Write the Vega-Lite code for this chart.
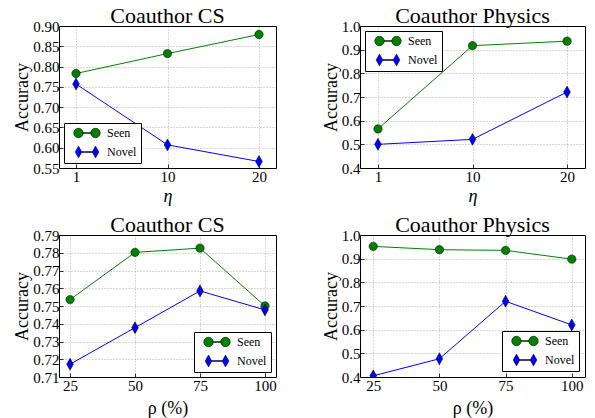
{
  "$schema": "https://vega.github.io/schema/vega-lite/v6.json",
  "background": "white",
  "padding": {"left": 13, "top": 4, "right": 5, "bottom": 5},
  "config": {
    "font": "Liberation Serif, Times New Roman, serif",
    "view": {"stroke": "black", "strokeWidth": 1},
    "style": {"guide-label": {"font": "Liberation Serif, Times New Roman, serif"}, "guide-title": {"font": "Liberation Serif, Times New Roman, serif"}},
    "axis": {
      "labelFont": "Liberation Serif, Times New Roman, serif", "labelFontSize": 15, "labelColor": "black",
      "titleFont": "Liberation Serif, Times New Roman, serif", "titleFontSize": 18, "titleFontWeight": "normal", "titleColor": "black",
      "domain": false, "tickColor": "black", "tickSize": -4, "tickWidth": 0.8,
      "grid": true, "gridColor": "black", "gridDash": [1, 2], "gridOpacity": 0.5, "gridWidth": 0.6
    },
    "axisX": {"labelAngle": 0, "labelPadding": 5},
    "axisY": {"labelPadding": 4, "titlePadding": 1},
    "title": {"font": "Liberation Serif, Times New Roman, serif", "fontSize": 22, "fontWeight": "normal", "color": "black", "offset": -9},
    "legend": {
      "labelFont": "Liberation Serif, Times New Roman, serif", "labelFontSize": 12, "labelColor": "black",
      "symbolSize": 71, "symbolOffset": 13, "labelOffset": 14, "padding": 4, "rowPadding": 6,
      "strokeColor": "black", "fillColor": "white", "cornerRadius": 0,
      "symbolStrokeColor": "black", "symbolStrokeWidth": 0.5
    }
  },
  "datasets": {
    "d": [
      {"p": "a", "s": "Seen", "x": 1, "v": 0.783},
      {"p": "a", "s": "Seen", "x": 10, "v": 0.832},
      {"p": "a", "s": "Seen", "x": 20, "v": 0.879},
      {"p": "a", "s": "Novel", "x": 1, "v": 0.757},
      {"p": "a", "s": "Novel", "x": 10, "v": 0.607},
      {"p": "a", "s": "Novel", "x": 20, "v": 0.566},
      {"p": "b", "s": "Seen", "x": 1, "v": 0.565},
      {"p": "b", "s": "Seen", "x": 10, "v": 0.917},
      {"p": "b", "s": "Seen", "x": 20, "v": 0.936},
      {"p": "b", "s": "Novel", "x": 1, "v": 0.500},
      {"p": "b", "s": "Novel", "x": 10, "v": 0.521},
      {"p": "b", "s": "Novel", "x": 20, "v": 0.721},
      {"p": "c", "s": "Seen", "x": 25, "v": 0.7536},
      {"p": "c", "s": "Seen", "x": 50, "v": 0.7802},
      {"p": "c", "s": "Seen", "x": 75, "v": 0.7826},
      {"p": "c", "s": "Seen", "x": 100, "v": 0.7500},
      {"p": "c", "s": "Novel", "x": 25, "v": 0.7172},
      {"p": "c", "s": "Novel", "x": 50, "v": 0.7378},
      {"p": "c", "s": "Novel", "x": 75, "v": 0.7585},
      {"p": "c", "s": "Novel", "x": 100, "v": 0.7478},
      {"p": "d", "s": "Seen", "x": 25, "v": 0.952},
      {"p": "d", "s": "Seen", "x": 50, "v": 0.938},
      {"p": "d", "s": "Seen", "x": 75, "v": 0.935},
      {"p": "d", "s": "Seen", "x": 100, "v": 0.898},
      {"p": "d", "s": "Novel", "x": 25, "v": 0.405},
      {"p": "d", "s": "Novel", "x": 50, "v": 0.477},
      {"p": "d", "s": "Novel", "x": 75, "v": 0.720},
      {"p": "d", "s": "Novel", "x": 100, "v": 0.620}
    ]
  },
  "columns": 2,
  "spacing": {"row": 67, "column": 84},
  "bounds": "flush",
  "resolve": {"scale": {"color": "independent", "shape": "independent"}, "legend": {"color": "independent", "shape": "independent"}},
  "concat": [
    {
      "width": 217, "height": 142,
      "title": "Coauthor CS",
      "data": {"name": "d"},
      "transform": [{"filter": "datum.p === 'a'"}],
      "resolve": {"scale": {"color": "independent", "shape": "independent"}, "legend": {"color": "independent", "shape": "independent"}},
      "encoding": {
        "x": {"field": "x", "type": "ordinal", "scale": {"type": "point", "padding": 0.186}, "axis": {"title": "η", "titleFontStyle": "italic", "titlePadding": 3, "labelFont": "Liberation Serif, Times New Roman, serif", "titleFont": "Liberation Serif, Times New Roman, serif", "labelFontSize": 15, "titleFontSize": 18}},
        "y": {"field": "v", "type": "quantitative", "scale": {"domain": [0.55, 0.9], "nice": false, "zero": false}, "axis": {"title": "Accuracy", "values": [0.55, 0.6, 0.65, 0.7, 0.75, 0.8, 0.85, 0.9], "format": ".2f", "labelFont": "Liberation Serif, Times New Roman, serif", "titleFont": "Liberation Serif, Times New Roman, serif", "labelFontSize": 15, "titleFontSize": 18}}
      },
      "layer": [
        {"mark": {"type": "line", "strokeWidth": 1},
         "encoding": {"color": {"field": "s", "type": "nominal", "scale": {"domain": ["Seen", "Novel"], "range": ["#008000", "#0000ff"]}, "legend": null}}},
        {"mark": {"type": "point", "filled": true, "size": 71, "stroke": "black", "strokeWidth": 0.5, "opacity": 1, "clip": true},
         "encoding": {
           "color": {"field": "s", "type": "nominal", "scale": {"domain": ["Seen", "Novel"], "range": ["#008000", "#0000ff"]}, "legend": null},
           "shape": {"field": "s", "type": "nominal", "scale": {"domain": ["Seen", "Novel"], "range": ["circle", "M0,-1.42L0.8,0L0,1.42L-0.8,0Z"]}, "legend": null}}},
        {"transform": [{"filter": "false"}],
         "mark": {"type": "point", "filled": true, "size": 71, "stroke": "black", "strokeWidth": 0.5, "opacity": 1},
         "encoding": {
           "color": {"field": "s", "type": "nominal", "scale": {"domain": ["Seen", "Novel"], "range": ["#008000", "#0000ff"]},
             "legend": {"title": null, "orient": "bottom-left", "offset": 5, "labelFont": "Liberation Serif, Times New Roman, serif", "labelFontSize": 12}},
           "shape": {"field": "s", "type": "nominal", "scale": {"domain": ["Seen", "Novel"], "range": ["M-0.89,-0.12L0.89,-0.12L0.89,0.12L-0.89,0.12Z M-0.89,0A1.13,1.13 0 1,0 -3.15,0A1.13,1.13 0 1,0 -0.89,0Z M3.15,0A1.13,1.13 0 1,0 0.89,0A1.13,1.13 0 1,0 3.15,0Z", "M-1.22,-0.12L1.22,-0.12L1.22,0.12L-1.22,0.12Z M-2.02,-1.42L-1.22,0L-2.02,1.42L-2.82,0Z M2.02,-1.42L2.82,0L2.02,1.42L1.22,0Z"]},
             "legend": {"title": null, "orient": "bottom-left", "offset": 5, "labelFont": "Liberation Serif, Times New Roman, serif", "labelFontSize": 12}}}}
      ]
    },
    {
      "width": 225, "height": 142,
      "title": "Coauthor Physics",
      "data": {"name": "d"},
      "transform": [{"filter": "datum.p === 'b'"}],
      "resolve": {"scale": {"color": "independent", "shape": "independent"}, "legend": {"color": "independent", "shape": "independent"}},
      "encoding": {
        "x": {"field": "x", "type": "ordinal", "scale": {"type": "point", "padding": 0.19}, "axis": {"title": "η", "titleFontStyle": "italic", "titlePadding": 3, "labelFont": "Liberation Serif, Times New Roman, serif", "titleFont": "Liberation Serif, Times New Roman, serif", "labelFontSize": 15, "titleFontSize": 18}},
        "y": {"field": "v", "type": "quantitative", "scale": {"domain": [0.4, 1.0], "nice": false, "zero": false}, "axis": {"title": "Accuracy", "values": [0.4, 0.5, 0.6, 0.7, 0.8, 0.9, 1.0], "format": ".1f", "labelFont": "Liberation Serif, Times New Roman, serif", "titleFont": "Liberation Serif, Times New Roman, serif", "labelFontSize": 15, "titleFontSize": 18}}
      },
      "layer": [
        {"mark": {"type": "line", "strokeWidth": 1},
         "encoding": {"color": {"field": "s", "type": "nominal", "scale": {"domain": ["Seen", "Novel"], "range": ["#008000", "#0000ff"]}, "legend": null}}},
        {"mark": {"type": "point", "filled": true, "size": 71, "stroke": "black", "strokeWidth": 0.5, "opacity": 1, "clip": true},
         "encoding": {
           "color": {"field": "s", "type": "nominal", "scale": {"domain": ["Seen", "Novel"], "range": ["#008000", "#0000ff"]}, "legend": null},
           "shape": {"field": "s", "type": "nominal", "scale": {"domain": ["Seen", "Novel"], "range": ["circle", "M0,-1.42L0.8,0L0,1.42L-0.8,0Z"]}, "legend": null}}},
        {"transform": [{"filter": "false"}],
         "mark": {"type": "point", "filled": true, "size": 71, "stroke": "black", "strokeWidth": 0.5, "opacity": 1},
         "encoding": {
           "color": {"field": "s", "type": "nominal", "scale": {"domain": ["Seen", "Novel"], "range": ["#008000", "#0000ff"]},
             "legend": {"title": null, "orient": "top-left", "offset": 5, "labelFont": "Liberation Serif, Times New Roman, serif", "labelFontSize": 12}},
           "shape": {"field": "s", "type": "nominal", "scale": {"domain": ["Seen", "Novel"], "range": ["M-0.89,-0.12L0.89,-0.12L0.89,0.12L-0.89,0.12Z M-0.89,0A1.13,1.13 0 1,0 -3.15,0A1.13,1.13 0 1,0 -0.89,0Z M3.15,0A1.13,1.13 0 1,0 0.89,0A1.13,1.13 0 1,0 3.15,0Z", "M-1.22,-0.12L1.22,-0.12L1.22,0.12L-1.22,0.12Z M-2.02,-1.42L-1.22,0L-2.02,1.42L-2.82,0Z M2.02,-1.42L2.82,0L2.02,1.42L1.22,0Z"]},
             "legend": {"title": null, "orient": "top-left", "offset": 5, "labelFont": "Liberation Serif, Times New Roman, serif", "labelFontSize": 12}}}}
      ]
    },
    {
      "width": 217, "height": 142,
      "title": "Coauthor CS",
      "data": {"name": "d"},
      "transform": [{"filter": "datum.p === 'c'"}],
      "resolve": {"scale": {"color": "independent", "shape": "independent"}, "legend": {"color": "independent", "shape": "independent"}},
      "encoding": {
        "x": {"field": "x", "type": "ordinal", "scale": {"type": "point", "padding": 0.17}, "axis": {"title": "ρ (%)", "titlePadding": 6, "labelFont": "Liberation Serif, Times New Roman, serif", "titleFont": "Liberation Serif, Times New Roman, serif", "labelFontSize": 15, "titleFontSize": 18}},
        "y": {"field": "v", "type": "quantitative", "scale": {"domain": [0.71, 0.79], "nice": false, "zero": false}, "axis": {"title": "Accuracy", "values": [0.71, 0.72, 0.73, 0.74, 0.75, 0.76, 0.77, 0.78, 0.79], "format": ".2f", "labelFont": "Liberation Serif, Times New Roman, serif", "titleFont": "Liberation Serif, Times New Roman, serif", "labelFontSize": 15, "titleFontSize": 18}}
      },
      "layer": [
        {"mark": {"type": "line", "strokeWidth": 1},
         "encoding": {"color": {"field": "s", "type": "nominal", "scale": {"domain": ["Seen", "Novel"], "range": ["#008000", "#0000ff"]}, "legend": null}}},
        {"mark": {"type": "point", "filled": true, "size": 71, "stroke": "black", "strokeWidth": 0.5, "opacity": 1, "clip": true},
         "encoding": {
           "color": {"field": "s", "type": "nominal", "scale": {"domain": ["Seen", "Novel"], "range": ["#008000", "#0000ff"]}, "legend": null},
           "shape": {"field": "s", "type": "nominal", "scale": {"domain": ["Seen", "Novel"], "range": ["circle", "M0,-1.42L0.8,0L0,1.42L-0.8,0Z"]}, "legend": null}}},
        {"transform": [{"filter": "false"}],
         "mark": {"type": "point", "filled": true, "size": 71, "stroke": "black", "strokeWidth": 0.5, "opacity": 1},
         "encoding": {
           "color": {"field": "s", "type": "nominal", "scale": {"domain": ["Seen", "Novel"], "range": ["#008000", "#0000ff"]},
             "legend": {"title": null, "orient": "bottom-right", "offset": 5, "labelFont": "Liberation Serif, Times New Roman, serif", "labelFontSize": 12}},
           "shape": {"field": "s", "type": "nominal", "scale": {"domain": ["Seen", "Novel"], "range": ["M-0.89,-0.12L0.89,-0.12L0.89,0.12L-0.89,0.12Z M-0.89,0A1.13,1.13 0 1,0 -3.15,0A1.13,1.13 0 1,0 -0.89,0Z M3.15,0A1.13,1.13 0 1,0 0.89,0A1.13,1.13 0 1,0 3.15,0Z", "M-1.22,-0.12L1.22,-0.12L1.22,0.12L-1.22,0.12Z M-2.02,-1.42L-1.22,0L-2.02,1.42L-2.82,0Z M2.02,-1.42L2.82,0L2.02,1.42L1.22,0Z"]},
             "legend": {"title": null, "orient": "bottom-right", "offset": 5, "labelFont": "Liberation Serif, Times New Roman, serif", "labelFontSize": 12}}}}
      ]
    },
    {
      "width": 225, "height": 142,
      "title": "Coauthor Physics",
      "data": {"name": "d"},
      "transform": [{"filter": "datum.p === 'd'"}],
      "resolve": {"scale": {"color": "independent", "shape": "independent"}, "legend": {"color": "independent", "shape": "independent"}},
      "encoding": {
        "x": {"field": "x", "type": "ordinal", "scale": {"type": "point", "padding": 0.2}, "axis": {"title": "ρ (%)", "titlePadding": 6, "labelFont": "Liberation Serif, Times New Roman, serif", "titleFont": "Liberation Serif, Times New Roman, serif", "labelFontSize": 15, "titleFontSize": 18}},
        "y": {"field": "v", "type": "quantitative", "scale": {"domain": [0.4, 1.0], "nice": false, "zero": false}, "axis": {"title": "Accuracy", "values": [0.4, 0.5, 0.6, 0.7, 0.8, 0.9, 1.0], "format": ".1f", "labelFont": "Liberation Serif, Times New Roman, serif", "titleFont": "Liberation Serif, Times New Roman, serif", "labelFontSize": 15, "titleFontSize": 18}}
      },
      "layer": [
        {"mark": {"type": "line", "strokeWidth": 1},
         "encoding": {"color": {"field": "s", "type": "nominal", "scale": {"domain": ["Seen", "Novel"], "range": ["#008000", "#0000ff"]}, "legend": null}}},
        {"mark": {"type": "point", "filled": true, "size": 71, "stroke": "black", "strokeWidth": 0.5, "opacity": 1, "clip": true},
         "encoding": {
           "color": {"field": "s", "type": "nominal", "scale": {"domain": ["Seen", "Novel"], "range": ["#008000", "#0000ff"]}, "legend": null},
           "shape": {"field": "s", "type": "nominal", "scale": {"domain": ["Seen", "Novel"], "range": ["circle", "M0,-1.42L0.8,0L0,1.42L-0.8,0Z"]}, "legend": null}}},
        {"transform": [{"filter": "false"}],
         "mark": {"type": "point", "filled": true, "size": 71, "stroke": "black", "strokeWidth": 0.5, "opacity": 1},
         "encoding": {
           "color": {"field": "s", "type": "nominal", "scale": {"domain": ["Seen", "Novel"], "range": ["#008000", "#0000ff"]},
             "legend": {"title": null, "orient": "bottom-right", "offset": 6, "labelFont": "Liberation Serif, Times New Roman, serif", "labelFontSize": 12}},
           "shape": {"field": "s", "type": "nominal", "scale": {"domain": ["Seen", "Novel"], "range": ["M-0.89,-0.12L0.89,-0.12L0.89,0.12L-0.89,0.12Z M-0.89,0A1.13,1.13 0 1,0 -3.15,0A1.13,1.13 0 1,0 -0.89,0Z M3.15,0A1.13,1.13 0 1,0 0.89,0A1.13,1.13 0 1,0 3.15,0Z", "M-1.22,-0.12L1.22,-0.12L1.22,0.12L-1.22,0.12Z M-2.02,-1.42L-1.22,0L-2.02,1.42L-2.82,0Z M2.02,-1.42L2.82,0L2.02,1.42L1.22,0Z"]},
             "legend": {"title": null, "orient": "bottom-right", "offset": 6, "labelFont": "Liberation Serif, Times New Roman, serif", "labelFontSize": 12}}}}
      ]
    }
  ]
}
